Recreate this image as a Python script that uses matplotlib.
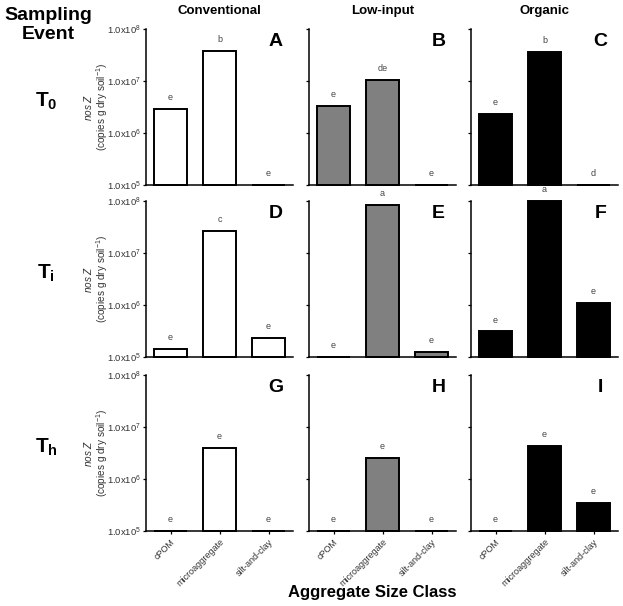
import matplotlib
matplotlib.use('Agg')
import numpy as np
from matplotlib import pyplot as plt

plt.rcParams['font.family'] = ['Liberation Sans', 'DejaVu Sans']
plt.rcParams['mathtext.fontset'] = 'custom'
plt.rcParams['mathtext.rm'] = 'Liberation Sans'
plt.rcParams['mathtext.it'] = 'Liberation Sans:italic'
plt.rcParams['mathtext.bf'] = 'Liberation Sans:bold'

# ------------------------------------------------------------
# Data
# ------------------------------------------------------------
categories = ['cPOM', 'microaggregate', 'silt-and-clay']
systems = ['Conventional', 'Low-input', 'Organic']
events = [r'$\mathbf{T_0}$', r'$\mathbf{T_i}$', r'$\mathbf{T_h}$']
system_colors = ['white', '#808080', 'black']
panel_letters = [['A', 'B', 'C'], ['D', 'E', 'F'], ['G', 'H', 'I']]

# nosZ copies per g dry soil, rows = sampling event, cols = system
t0_conv = [2.85e6, 3.8e7, 1.02e5]
t0_low = [3.3e6, 1.04e7, 1.02e5]
t0_org = [2.3e6, 3.55e7, 1.02e5]
ti_conv = [1.4e5, 2.7e7, 2.3e5]
ti_low = [1.02e5, 8.4e7, 1.25e5]
ti_org = [3.1e5, 9.9e7, 1.1e6]
th_conv = [1.02e5, 3.9e6, 1.02e5]
th_low = [1.02e5, 2.5e6, 1.02e5]
th_org = [1.02e5, 4.4e6, 3.5e5]

t0_sig = [['e', 'b', 'e'], ['e', 'de', 'e'], ['e', 'b', 'd']]
ti_sig = [['e', 'c', 'e'], ['e', 'a', 'e'], ['e', 'a', 'e']]
th_sig = [['e', 'e', 'e'], ['e', 'e', 'e'], ['e', 'e', 'e']]

values = [[t0_conv, t0_low, t0_org],
          [ti_conv, ti_low, ti_org],
          [th_conv, th_low, th_org]]
letters = [t0_sig, ti_sig, th_sig]

YMIN, YMAX = 1e5, 1e8
yticks = [1e5, 1e6, 1e7, 1e8]
ytick_labels = [r'1.0x10$^{5}$', r'1.0x10$^{6}$', r'1.0x10$^{7}$', r'1.0x10$^{8}$']

# ------------------------------------------------------------
# Figure
# ------------------------------------------------------------
W, H = 623, 606
fig = plt.figure(figsize=(W / 100, H / 100), dpi=100)

col_left = [146, 309, 471]
col_w = 147
row_top = [29, 201, 375]
row_h = 156

x = np.arange(len(categories))

for r in range(3):
    for c in range(3):
        ax = fig.add_axes([col_left[c] / W, 1 - (row_top[r] + row_h) / H,
                           col_w / W, row_h / H])
        vals = np.array(values[r][c])
        ax.set_yscale('log')
        ax.bar(x, vals - YMIN, bottom=YMIN, width=0.68,
               color=system_colors[c], edgecolor='black', linewidth=1.4,
               clip_on=False, zorder=2)
        for xi, v, s in zip(x, vals, letters[r][c]):
            ax.annotate(s, (xi, min(v, YMAX)), xytext=(0, 5),
                        textcoords='offset points', ha='center', va='bottom',
                        fontsize=6.5, color='#444444', annotation_clip=False)
        ax.set_ylim(YMIN, YMAX)
        ax.set_xlim(-0.5, 2.5)
        ax.yaxis.set_minor_locator(matplotlib.ticker.NullLocator())
        ax.set_yticks(yticks)
        if c == 0:
            ax.set_yticklabels(ytick_labels, fontsize=6.8, color='#333333')
            ax.set_ylabel('$\\mathit{nos\\ Z}$\n(copies g dry soil$^{-1}$)',
                          fontsize=7.2, color='#333333', linespacing=1.05)
            ax.yaxis.set_label_coords(-0.245, 0.5)
        else:
            ax.set_yticklabels([])
        ax.tick_params(axis='y', length=2.5, width=0.9, pad=1)
        if r == 2:
            ax.set_xticks(x)
            ax.set_xticklabels(categories, rotation=45, ha='right',
                               rotation_mode='anchor', fontsize=6.5,
                               color='#333333')
            ax.tick_params(axis='x', length=2.5, width=0.9, pad=2)
        else:
            ax.set_xticks([])
        for side in ['top', 'right']:
            ax.spines[side].set_visible(False)
        for side in ['left', 'bottom']:
            ax.spines[side].set_linewidth(1.1)
        ax.text(0.88, 0.92, panel_letters[r][c], transform=ax.transAxes,
                ha='center', va='center', fontsize=14, fontweight='bold')
        if r == 0:
            ax.set_title(systems[c], fontsize=9.5, fontweight='bold', pad=11)

fig.text(48 / W, 1 - 25 / H, 'Sampling\nEvent', ha='center', va='center',
         fontsize=14, fontweight='bold', linespacing=1.15)
for r in range(3):
    fig.text(46 / W, 1 - (row_top[r] + 72) / H, events[r], ha='center',
             va='center', fontsize=15)

fig.text(372 / W, 1 - 593 / H, 'Aggregate Size Class', ha='center',
         va='center', fontsize=12, fontweight='bold')

plt.savefig('out.png', dpi=100)
plt.close()
